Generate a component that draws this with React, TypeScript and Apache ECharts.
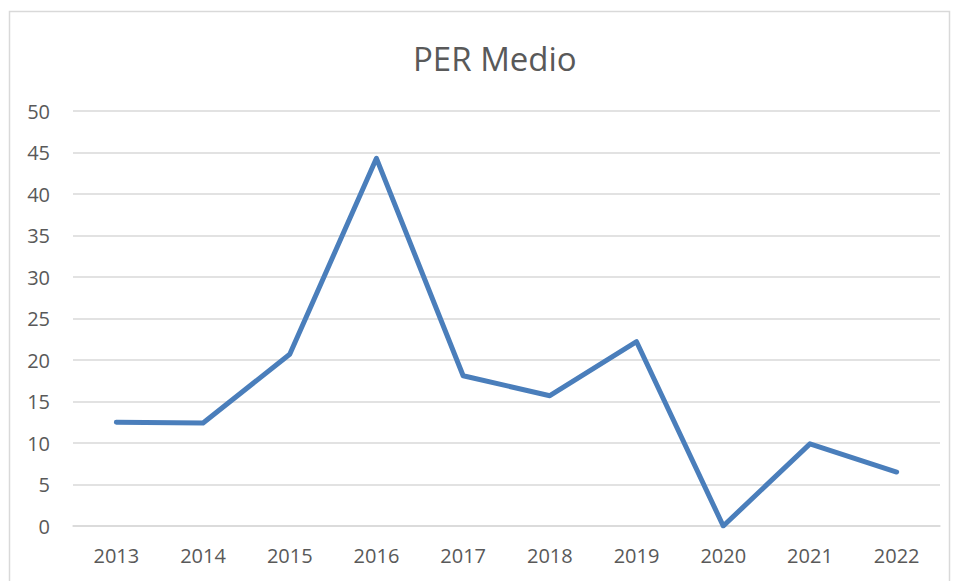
import React, { useEffect, useRef } from "react";
import * as echarts from "echarts";

const categories = ["2013", "2014", "2015", "2016", "2017", "2018", "2019", "2020", "2021", "2022"];
const perValues = [12.5, 12.4, 20.7, 44.3, 18.1, 15.7, 22.2, 0, 9.9, 6.5];
const chartTitle = "PER Medio";

export default function App() {
  const ref = useRef<HTMLDivElement>(null);
  useEffect(() => {
    if (!ref.current) return;
    const chart = echarts.init(ref.current, null, { renderer: "svg" });
    chart.setOption({
      animation: false,
      backgroundColor: "#ffffff",
      title: {
        text: chartTitle,
        left: 408,
        top: 37,
        textStyle: { fontFamily: "Open Sans", fontSize: 33, fontWeight: "normal", color: "#595959" },
      },
      graphic: [
        {
          type: "rect",
          shape: { x: 9.5, y: 11.5, width: 940, height: 580 },
          style: { fill: "none", stroke: "#d9d9d9", lineWidth: 1.5 },
        },
      ],
      grid: { left: 73, right: 15, top: 111, bottom: 55 },
      xAxis: {
        type: "category",
        data: categories,
        boundaryGap: true,
        axisLine: { show: true, lineStyle: { color: "#d9d9d9", width: 1.5 } },
        axisTick: { show: false },
        axisLabel: { fontFamily: "Open Sans", fontSize: 20, color: "#595959", margin: 19 },
      },
      yAxis: {
        type: "value",
        min: 0,
        max: 50,
        interval: 5,
        axisLine: { show: false },
        axisTick: { show: false },
        splitLine: { lineStyle: { color: "#d9d9d9", width: 1.5 } },
        axisLabel: { fontFamily: "Open Sans", fontSize: 20, color: "#595959", margin: 23 },
      },
      series: [
        {
          type: "line",
          data: perValues,
          symbol: "none",
          lineStyle: { color: "#4a7ebb", width: 5, cap: "round", join: "round" },
        },
      ],
    });
    return () => chart.dispose();
  }, []);
  return <div ref={ref} style={{ width: 955, height: 581, position: "absolute", left: 0, top: 0 }} />;
}
